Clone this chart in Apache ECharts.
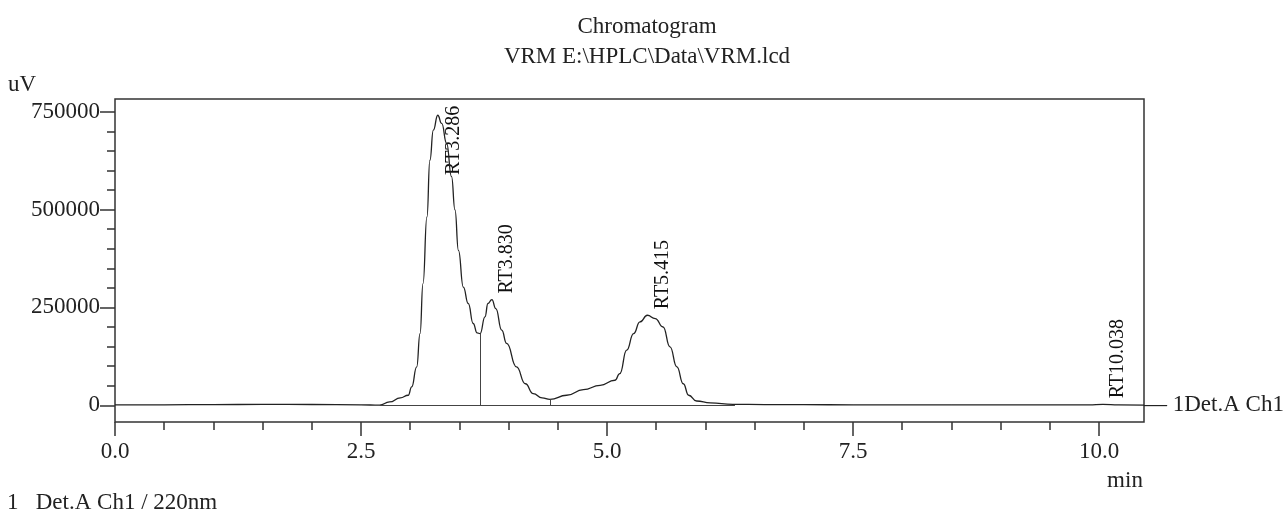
<!DOCTYPE html>
<html>
<head>
<meta charset="utf-8">
<script src="https://cdn.jsdelivr.net/npm/echarts@6.0.0/dist/echarts.min.js"></script>
<style>
	html, body { margin: 0; padding: 0; background: #fff; }
	#chart { width: 1286px; height: 521px; }
</style>
</head>
<body>
<div id="chart"></div>
<script>
// retention time (min) and detector signal (uV)
var timeMin = [0, 0.5, 1.0, 1.5, 2.0, 2.5, 2.69, 2.79, 2.90, 2.98, 3.015, 3.066, 3.10, 3.13, 3.17, 3.20, 3.235, 3.28, 3.32, 3.37,
	3.42, 3.455, 3.49, 3.54, 3.59, 3.64, 3.68, 3.71, 3.76, 3.79, 3.83, 3.87, 3.93, 3.98, 4.08, 4.17, 4.25, 4.34, 4.42, 4.59,
	4.76, 4.93, 5.08, 5.13, 5.20, 5.27, 5.335, 5.41, 5.49, 5.57, 5.64, 5.71, 5.775, 5.83, 5.91, 6.05, 6.28, 6.6, 7.0, 7.5,
	8.0, 8.5, 9.0, 9.5, 9.9, 10.038, 10.2, 10.457];
var signal = [800, 1200, 1800, 2200, 2000, 1200, 300, 8500, 19000, 25600, 47000, 98000, 183000, 311000, 481000, 626000, 703000, 741000, 720000, 669000,
	584000, 499000, 396000, 302000, 260000, 209000, 185000, 183000, 226000, 260000, 270000, 247000, 192000, 158000, 98000, 55000, 30000, 19000, 15000, 25600,
	40000, 51000, 64000, 81000, 141000, 183000, 213000, 230000, 221600, 200000, 149000, 98000, 55000, 25600, 11000, 6000, 2500, 1800, 1500, 1200,
	1000, 900, 800, 800, 900, 2500, 900, 600];

// detected peaks
var peakRt = [3.286, 3.830, 5.415, 10.038];
var peakHeight = [741000, 270000, 230000, 2500];

// integration baseline and drop lines [time, top]
var baselineRange = [2.69, 6.30];
var dropLines = [[3.71, 183000], [4.42, 15000]];

var yMajorTicks = [0, 250000, 500000, 750000];
var yMinorTicks = [50000, 100000, 150000, 200000, 300000, 350000, 400000, 450000, 550000, 600000, 650000, 700000];
var xMajorTicks = [0, 2.5, 5.0, 7.5, 10.0];
var xMinorTicks = [0.5, 1.0, 1.5, 2.0, 3.0, 3.5, 4.0, 4.5, 5.5, 6.0, 6.5, 7.0, 8.0, 8.5, 9.0, 9.5];

var FONT = 'Liberation Serif';
var INK = '#222';
var X_MIN = 0, X_MAX = 10.457;
var Y_MIN = -42700, Y_MAX = 782500;
var labelCap = 573000; // keep the tall peak's label inside the frame

var trace = timeMin.map(function (t, i) { return [t, signal[i]]; });
var peaks = peakRt.map(function (t, i) { return [t, Math.min(peakHeight[i], labelCap)]; });

var markLines = [[{ coord: [baselineRange[0], 0] }, { coord: [baselineRange[1], 0] }]];
dropLines.forEach(function (d) {
	markLines.push([{ coord: [d[0], d[1]] }, { coord: [d[0], 0] }]);
});

function xAxisDef(ticks, len, withLabels) {
	return {
		type: 'value', min: X_MIN, max: X_MAX, position: 'bottom',
		axisLine: { show: false, onZero: false },
		splitLine: { show: false },
		axisTick: { show: true, length: len, customValues: ticks, lineStyle: { color: '#333', width: 1.5 } },
		axisLabel: {
			show: withLabels, customValues: ticks, margin: 18,
			fontFamily: FONT, fontSize: 23, color: INK,
			formatter: function (v) { return v.toFixed(1); }
		}
	};
}
function yAxisDef(ticks, len, withLabels) {
	return {
		type: 'value', min: Y_MIN, max: Y_MAX, position: 'left',
		axisLine: { show: false, onZero: false },
		splitLine: { show: false },
		axisTick: { show: true, length: len, customValues: ticks, lineStyle: { color: '#333', width: 1.5 } },
		axisLabel: {
			show: withLabels, customValues: ticks, margin: 15,
			fontFamily: FONT, fontSize: 23, color: INK,
			formatter: function (v) { return String(v); }
		}
	};
}

var option = {
	animation: false,
	backgroundColor: '#fff',
	grid: {
		left: 115, top: 99, right: 142, bottom: 99,
		show: true, borderColor: '#333', borderWidth: 1.5,
		containLabel: false, outerBoundsMode: 'none'
	},
	xAxis: [xAxisDef(xMajorTicks, 14, true), xAxisDef(xMinorTicks, 8, false)],
	yAxis: [yAxisDef(yMajorTicks, 15, true), yAxisDef(yMinorTicks, 8, false)],
	graphic: [
		{ type: 'text', x: 647, y: 27, style: { text: 'Chromatogram', font: '23px "' + FONT + '"', fill: INK, align: 'center', verticalAlign: 'middle' } },
		{ type: 'text', x: 647, y: 57, style: { text: 'VRM E:\\HPLC\\Data\\VRM.lcd', font: '23px "' + FONT + '"', fill: INK, align: 'center', verticalAlign: 'middle' } },
		{ type: 'text', x: 8, y: 85, style: { text: 'uV', font: '23px "' + FONT + '"', fill: INK, align: 'left', verticalAlign: 'middle' } },
		{ type: 'text', x: 1125, y: 481, style: { text: 'min', font: '23px "' + FONT + '"', fill: INK, align: 'center', verticalAlign: 'middle' } },
		{ type: 'text', x: 7, y: 503, style: { text: '1   Det.A Ch1 / 220nm', font: '23px "' + FONT + '"', fill: INK, align: 'left', verticalAlign: 'middle' } }
	],
	series: [{
		name: '1Det.A Ch1',
		type: 'line',
		xAxisIndex: 0, yAxisIndex: 0,
		data: trace,
		showSymbol: false,
		smooth: 0.5,
		smoothMonotone: 'x',
		lineStyle: { color: '#222', width: 1.3 },
		endLabel: {
			show: true, distance: 0,
			formatter: '\u2014 1Det.A Ch1',
			fontFamily: FONT, fontSize: 23, color: INK
		},
		markLine: {
			silent: true,
			symbol: 'none',
			label: { show: false },
			lineStyle: { color: '#444', width: 1, type: 'solid' },
			data: markLines
		}
	}, {
		name: 'peaks',
		type: 'scatter',
		xAxisIndex: 0, yAxisIndex: 0,
		data: peaks,
		symbolSize: 1,
		itemStyle: { color: 'rgba(0,0,0,0)' },
		label: {
			show: true,
			position: 'inside',
			rotate: 90,
			align: 'left',
			verticalAlign: 'middle',
			offset: [6, 15],
			fontFamily: FONT, fontSize: 20, color: '#111', opacity: 1,
			formatter: function (p) { return 'RT' + p.value[0].toFixed(3); }
		}
	}]
};

var myChart = echarts.init(document.getElementById('chart'));
myChart.setOption(option);
</script>
</body>
</html>
